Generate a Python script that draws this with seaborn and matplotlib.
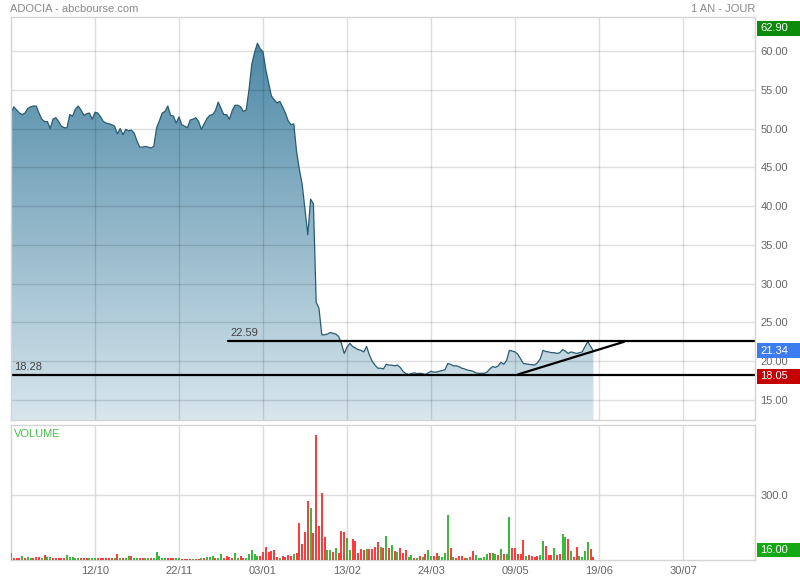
import numpy as np
import pandas as pd
import matplotlib
matplotlib.use("Agg")
import matplotlib.pyplot as plt
import matplotlib.transforms as mtransforms
from matplotlib.patches import Rectangle
import seaborn as sns

# ---------------- data ----------------
price = [
    52.0, 52.8, 52.4, 52.0, 51.8, 52.0, 52.6, 52.8, 52.9, 52.9,
    52.0, 51.2, 50.9, 50.9, 50.0, 51.2, 51.4, 50.9, 50.3, 50.1,
    50.1, 51.8, 51.6, 52.5, 52.9, 52.4, 51.7, 51.9, 52.0, 51.2,
    52.1, 52.0, 51.5, 50.9, 50.7, 50.6, 50.5, 50.3, 49.3, 50.0,
    49.2, 49.9, 49.7, 49.8, 49.4, 48.4, 47.6, 47.6, 47.7, 47.6,
    47.5, 47.7, 50.1, 51.0, 52.0, 52.2, 52.9, 51.7, 51.6, 50.7,
    51.5, 50.5, 50.3, 50.1, 51.1, 51.2, 51.4, 50.9, 49.9, 50.6,
    51.3, 51.7, 51.8, 52.3, 53.4, 52.6, 51.8, 51.8, 51.2, 52.3,
    53.0, 53.0, 52.8, 52.2, 52.4, 55.0, 58.3, 59.8, 61.0, 60.3,
    59.9, 57.6, 55.9, 54.2, 53.7, 53.3, 53.5, 52.8, 52.0, 51.0,
    50.5, 50.6, 47.0, 44.7, 42.8, 39.5, 36.3, 40.9, 40.3, 27.6,
    26.8, 23.4, 23.4, 23.5, 23.7, 23.6, 23.5, 23.2, 22.3, 21.0,
    21.8, 22.3, 21.9, 21.7, 21.5, 21.4, 21.2, 21.9, 20.8, 20.0,
    19.5, 19.1, 19.1, 19.0, 19.6, 19.5, 19.5, 19.4, 19.5, 19.2,
    18.7, 18.4, 18.3, 18.4, 18.5, 18.4, 18.45, 18.4, 18.3, 18.5,
    18.7, 18.6, 18.6, 18.7, 18.8, 18.9, 19.7, 19.6, 19.4, 19.4,
    19.3, 19.1, 19.0, 18.85, 18.8, 18.7, 18.5, 18.44, 18.44, 18.45,
    18.6, 19.0, 19.3, 19.2, 19.4, 19.85, 19.6, 20.1, 21.4, 21.3,
    21.2, 20.9, 20.3, 19.7, 19.65, 19.6, 19.55, 19.5, 19.8, 20.3,
    21.4, 21.25, 21.2, 21.1, 21.1, 21.0, 21.1, 21.5, 21.3, 21.0,
    21.2, 21.1, 21.0, 21.1, 21.2, 21.9, 22.5, 21.9, 21.34,
]

volume = [
    31, 11, 11, 8, 20, 8, 15, 11, 8, 15,
    15, 8, 23, 15, 15, 8, 8, 8, 11, 8,
    23, 15, 15, 11, 8, 8, 11, 8, 11, 8,
    11, 11, 11, 11, 11, 11, 11, 8, 26, 8,
    11, 11, 18, 18, 8, 8, 11, 8, 8, 11,
    11, 11, 37, 18, 11, 11, 11, 11, 11, 8,
    8, 3, 3, 3, 3, 3, 3, 3, 11, 8,
    15, 15, 18, 11, 11, 26, 11, 18, 15, 11,
    31, 11, 18, 11, 8, 26,
    46, 26, 20, 20, 35, 62, 35, 43, 48, 15, 9, 18, 14, 23, 18, 26, 30,
    169, 74, 128, 272, 241, 123, 577, 158, 311, 105, 46, 46, 38, 54, 31,
    134, 131, 100, 46, 97, 88, 31, 49, 45,
    51, 51, 51, 58, 82, 58, 54, 111, 57, 69, 42, 38, 54, 34, 45, 14, 23,
    11, 11, 18, 14, 26, 46, 18, 18, 31, 18, 14, 31,
    208, 54, 14, 8, 20, 18, 9, 11, 14, 43, 23, 9, 11, 14, 26, 34, 34, 29,
    23, 49, 28, 29, 198,
    54, 55, 26, 29, 91, 20, 22, 17, 15, 18, 23, 89, 63, 23, 23, 57, 23, 26,
    120, 108, 97, 42, 15, 62, 18, 12, 43, 85, 51, 15,
]

# g = up day (green bar), r = down day (red bar)
vol_dir = list(
    "grrrgrggrr" "rgrggrrrrr" "gggggrrrgg" "grrrrrrgrg" "rggrggrrgg"
    "rgggggrrrg" "grrrrgrrgr" "gggrggrrrr" "ggrrgg"
    "gggrrrrrrrgrrrrgr"
    "rrrrgrrrrrggrgrrrggrrrrr"
    "grrrrgrgrgrgrrrggrgrgrggrrggg"
    "grgrrrrgrrgggggrggrgrgg"
    "rrrrrgrrrrggrrrgrrggrgrrggggrr"
)

tick_pos = [30, 60, 90, 120, 150, 180, 210, 240]
tick_labels = ["12/10", "22/11", "03/01", "13/02", "24/03", "09/05", "19/06", "30/07"]
price_ticks = [15, 20, 25, 30, 35, 40, 45, 50, 55, 60]
vol_ticks = [300]

level_high = 22.59
level_high_start = 77.5
level_low = 18.28
trend_x = [181.1, 218.9]
trend_y = [18.3, 22.5]

box_high = 62.90
box_last = 21.34
box_low = 18.05
box_vol = "16.00"

title_left = "ADOCIA - abcbourse.com"
title_right = "1 AN - JOUR"

# ---------------- style ----------------
sns.set_theme(style="white")
plt.rcParams["font.family"] = ["Liberation Sans", "DejaVu Sans"]

W, H = 800, 580
fig = plt.figure(figsize=(W / 100, H / 100), dpi=100)
fig.patch.set_facecolor("white")

X0, X1 = 11, 755
ax = fig.add_axes([X0 / W, (H - 420) / H, (X1 - X0) / W, (420 - 17) / H])
axv = fig.add_axes([X0 / W, (H - 560) / H, (X1 - X0) / W, (560 - 425) / H])

XMAX = (X1 - X0) / 2.8
YLO, YHI = 12.42, 64.38
VHI = 623

spine_col = "#d4d4d4"
label_col = "#666666"
fs = 8

idx = np.arange(len(price))

# ---------------- price panel ----------------
ax.set_xlim(0, XMAX)
ax.set_ylim(YLO, YHI)

# gradient area
top = np.array([68, 131, 162]) / 255
bot = np.array([216, 230, 237]) / 255
t = np.linspace(0, 1, 256)[:, None]
grad = (bot[None, :] * (1 - t) + top[None, :] * t)[:, None, :]
im = ax.imshow(grad, extent=[0, XMAX, YLO, YHI], origin="lower",
               aspect="auto", zorder=0.5, interpolation="bilinear")
poly = ax.fill_between(idx, price, YLO, color="none", lw=0)
im.set_clip_path(poly.get_paths()[0], transform=ax.transData)

sns.lineplot(x=idx, y=price, ax=ax, color="#2b5b70", lw=0.9, zorder=3)

ax.set_xticks(tick_pos)
ax.set_xticklabels([])
ax.set_yticks(price_ticks)
ax.set_yticklabels([f"{v:.2f}" for v in price_ticks])
ax.yaxis.tick_right()
ax.tick_params(axis="both", length=0, labelsize=fs, labelcolor=label_col, pad=4)
ax.set_axisbelow(False)
ax.grid(True, color="black", alpha=0.13, lw=1)
for s in ax.spines.values():
    s.set_color(spine_col)
    s.set_linewidth(1)
    s.set_zorder(5)

# support / resistance lines
ax.plot([level_high_start, XMAX], [level_high, level_high], color="black", lw=1.6, zorder=4)
ax.plot([0, XMAX], [level_low, level_low], color="black", lw=1.6, zorder=4)
ax.plot(trend_x, trend_y, color="black", lw=1.6, zorder=4, solid_capstyle="round")
ax.text(level_high_start + 0.9, level_high + 0.35, f"{level_high:.2f}", fontsize=fs,
        color="#444444", va="bottom", ha="left", zorder=6)
ax.text(1.1, level_low + 0.35, f"{level_low:.2f}", fontsize=fs,
        color="#444444", va="bottom", ha="left", zorder=6)

# value boxes on the right
blend = mtransforms.blended_transform_factory(ax.transAxes, ax.transData)
bx0 = (757 - X0) / (X1 - X0)
bw = (800 - 757) / (X1 - X0)
bh = 15 / ((420 - 17) / (YHI - YLO))
tx = (760 - X0) / (X1 - X0)
for val, col in [(box_high, "#0b8a0b"), (box_last, "#3b7cf0"), (box_low, "#c40000")]:
    ax.add_patch(Rectangle((bx0, val - bh / 2), bw, bh, transform=blend,
                           facecolor=col, edgecolor="none", clip_on=False, zorder=10))
    ax.text(tx, val, f"{val:.2f}", transform=blend, color="white", fontsize=fs,
            va="center", ha="left", zorder=11, clip_on=False)

# ---------------- volume panel ----------------
df = pd.DataFrame({"day": idx, "volume": volume, "dir": vol_dir})
sns.barplot(data=df, x="day", y="volume", hue="dir",
            palette={"g": "#3cb83c", "r": "#ff3c3c"}, native_scale=True,
            dodge=False, width=0.75, errorbar=None, legend=False,
            saturation=1, linewidth=0, edgecolor="none", ax=axv, zorder=3)
axv.set_xlim(0, XMAX)
axv.set_ylim(0, VHI)
axv.set_xticks(tick_pos)
axv.set_xticklabels(tick_labels)
axv.set_yticks(vol_ticks)
axv.set_yticklabels([f"{v:.1f}" for v in vol_ticks])
axv.yaxis.tick_right()
axv.set_xlabel("")
axv.set_ylabel("")
axv.tick_params(axis="both", length=0, labelsize=fs, labelcolor=label_col, pad=4)
axv.tick_params(axis="x", pad=4)
axv.set_axisbelow(True)
axv.grid(True, color="#dcdcdc", lw=1)
for s in axv.spines.values():
    s.set_color(spine_col)
    s.set_linewidth(1)
axv.text(3 / (X1 - X0), 1 - 9 / 135, "VOLUME", transform=axv.transAxes,
         color="#4cbf4c", fontsize=fs, va="center", ha="left")

fig.add_artist(Rectangle((757 / W, (H - 557) / H), 43 / W, 14 / H,
                         transform=fig.transFigure, facecolor="#14a814",
                         edgecolor="none", zorder=10))
fig.text(760 / W, (H - 550) / H, box_vol, color="white", fontsize=fs,
         va="center", ha="left", zorder=11)

# ---------------- header ----------------
fig.text(10 / W, 1 - 9 / H, title_left, color="#888888", fontsize=fs, va="center", ha="left")
fig.text(755 / W, 1 - 9 / H, title_right, color="#888888", fontsize=fs, va="center", ha="right")

fig.savefig("out.png", dpi=100, facecolor="white")
